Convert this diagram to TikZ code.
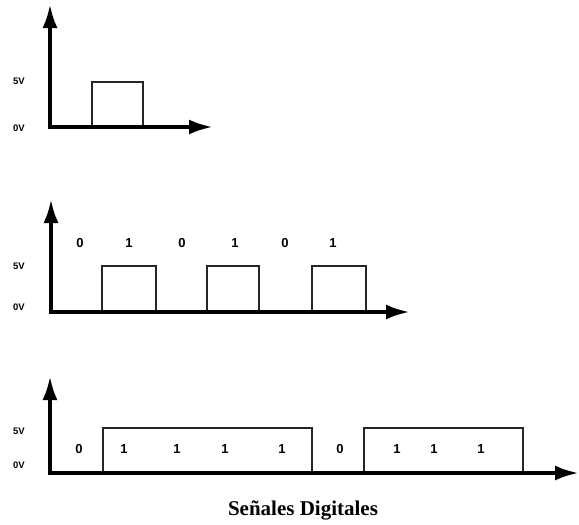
\documentclass[tikz,border=0pt]{standalone}
\usepackage{fontspec}
\setmainfont{Liberation Serif}
\setsansfont{Liberation Sans}
\usetikzlibrary{arrows.meta}
\begin{document}
\begin{tikzpicture}[x=1pt,y=-1pt,
  axis/.style={line width=4pt,-{Latex[length=24pt,width=15pt]}},
  pulse/.style={line width=1.1pt,draw=black!85},
  bit/.style={font=\sffamily\bfseries\fontsize{13}{13}\selectfont,inner sep=0pt},
  volt/.style={font=\sffamily\bfseries\fontsize{9.5}{10}\selectfont,inner sep=0pt}]
\fill[white] (0,0) rectangle (579,525);
\useasboundingbox (0,0) rectangle (579,525);
% panel 1
\coordinate (o1) at (50,127);
\coordinate (y1) at (50,4);
\coordinate (x1) at (213,127);
\draw[pulse] (92,127) |- (143,82) -- (143,127);
\draw[axis] (o1) -- (y1);
\draw[axis] ([xshift=-2pt]o1) -- (x1);
\node[volt] (v1a) at (19,81) {5V};
\node[volt] (v1b) at (19,128) {0V};
% panel 2
\coordinate (o2) at (51,312);
\coordinate (y2) at (51,199);
\coordinate (x2) at (410,312);
\draw[pulse] (102,312) |- (156,266) -- (156,312);
\draw[pulse] (207,312) |- (259,266) -- (259,312);
\draw[pulse] (312,312) |- (366,266) -- (366,312);
\draw[axis] (o2) -- (y2);
\draw[axis] ([xshift=-2pt]o2) -- (x2);
\node[volt] (v2a) at (19,266) {5V};
\node[volt] (v2b) at (19,307) {0V};
\foreach \x/\b [count=\i] in {80/0,129/1,182/0,235/1,285/0,333/1}
  \node[bit] (b2\i) at (\x,243) {\b};
% panel 3
\coordinate (o3) at (50,473);
\coordinate (y3) at (50,376);
\coordinate (x3) at (579,473);
\draw[pulse] (103,471) |- (312,428) -- (312,471);
\draw[pulse] (364,471) |- (523,428) -- (523,471);
\draw[axis] (o3) -- (y3);
\draw[axis] ([xshift=-2pt]o3) -- (x3);
\node[volt] (v3a) at (19,431) {5V};
\node[volt] (v3b) at (19,465) {0V};
\foreach \x/\b [count=\i] in {79/0,124/1,177/1,225/1,282/1,340/0,397/1,434/1,481/1}
  \node[bit] (b3\i) at (\x,449) {\b};
\node[font=\bfseries\fontsize{21}{24}\selectfont,inner sep=0pt] (title) at (303,510) {Señales Digitales};
\end{tikzpicture}
\end{document}
